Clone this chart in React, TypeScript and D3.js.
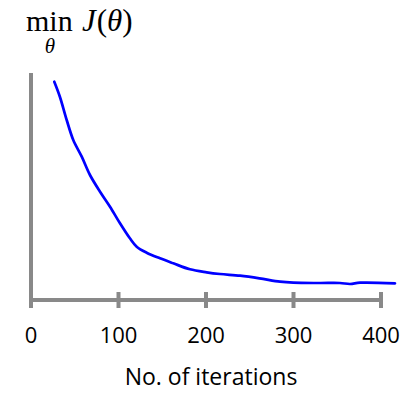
import React from "react";
import * as d3 from "d3";

const iterations = [26.6, 33, 40.8, 48.3, 58, 67.4, 78.9, 90.3, 101.7, 113, 120.8, 132.2, 147.4, 162.6, 181.7, 200.8, 216, 238.9, 261, 284.6, 299.8, 330, 353, 364.6, 376, 416];
const cost = [218.3, 203.3, 180, 160, 143.3, 125, 108.3, 93.3, 76.7, 61.7, 53.3, 47.3, 41.7, 36.7, 30.7, 27.7, 26, 24.3, 21.7, 18.3, 17.3, 17, 17, 16, 17.3, 16.7];
const xTicks = [0, 100, 200, 300, 400];
const xLabel = "No. of iterations";

export default function App() {
  const W = 408, H = 394;
  const x = d3.scaleLinear().domain([0, 400]).range([31, 381]);
  const y = d3.scaleLinear().domain([0, 227]).range([300, 73]);
  const pts: [number, number][] = iterations.map((it, i) => [x(it), y(cost[i])]);
  const line = d3.line().curve(d3.curveCatmullRom.alpha(0.5))(pts) || "";
  const axisColor = "#898989";
  const y0 = y(0);
  return (
    <svg width={W} height={H} style={{ position: "absolute", left: 0, top: 0, background: "#fff" }}>
      <text x={26} y={31} fontFamily="Liberation Serif" fontSize={30} fill="#000">min</text>
      <text x={50} y={53} textAnchor="middle" fontFamily="Liberation Serif" fontStyle="italic" fontSize={21} fill="#000">θ</text>
      <text x={82} y={31} fontFamily="Liberation Serif" fontSize={31} fill="#000">
        <tspan fontStyle="italic">J</tspan>
        <tspan dx={1}>(</tspan>
        <tspan fontStyle="italic">θ</tspan>
        <tspan>)</tspan>
      </text>
      {/* y axis */}
      <line x1={x(0)} x2={x(0)} y1={y(227)} y2={y0 + 8} stroke={axisColor} strokeWidth={4} />
      {/* x axis */}
      <line x1={x(0)} x2={x(400) + 2} y1={y0} y2={y0} stroke={axisColor} strokeWidth={4} />
      {xTicks.slice(1).map((t) => (
        <line key={t} x1={x(t)} x2={x(t)} y1={y0 - 8} y2={y0 + 8} stroke={axisColor} strokeWidth={4} />
      ))}
      {xTicks.map((t) => (
        <text key={"l" + t} x={x(t)} y={343} textAnchor="middle" fontFamily="Open Sans" fontSize={22} fill="#000">{t}</text>
      ))}
      <text x={211} y={385} textAnchor="middle" fontFamily="Open Sans" fontSize={23} fill="#000">{xLabel}</text>
      <path d={line} fill="none" stroke="#0000ff" strokeWidth={2.7} strokeLinejoin="round" strokeLinecap="round" />
    </svg>
  );
}
